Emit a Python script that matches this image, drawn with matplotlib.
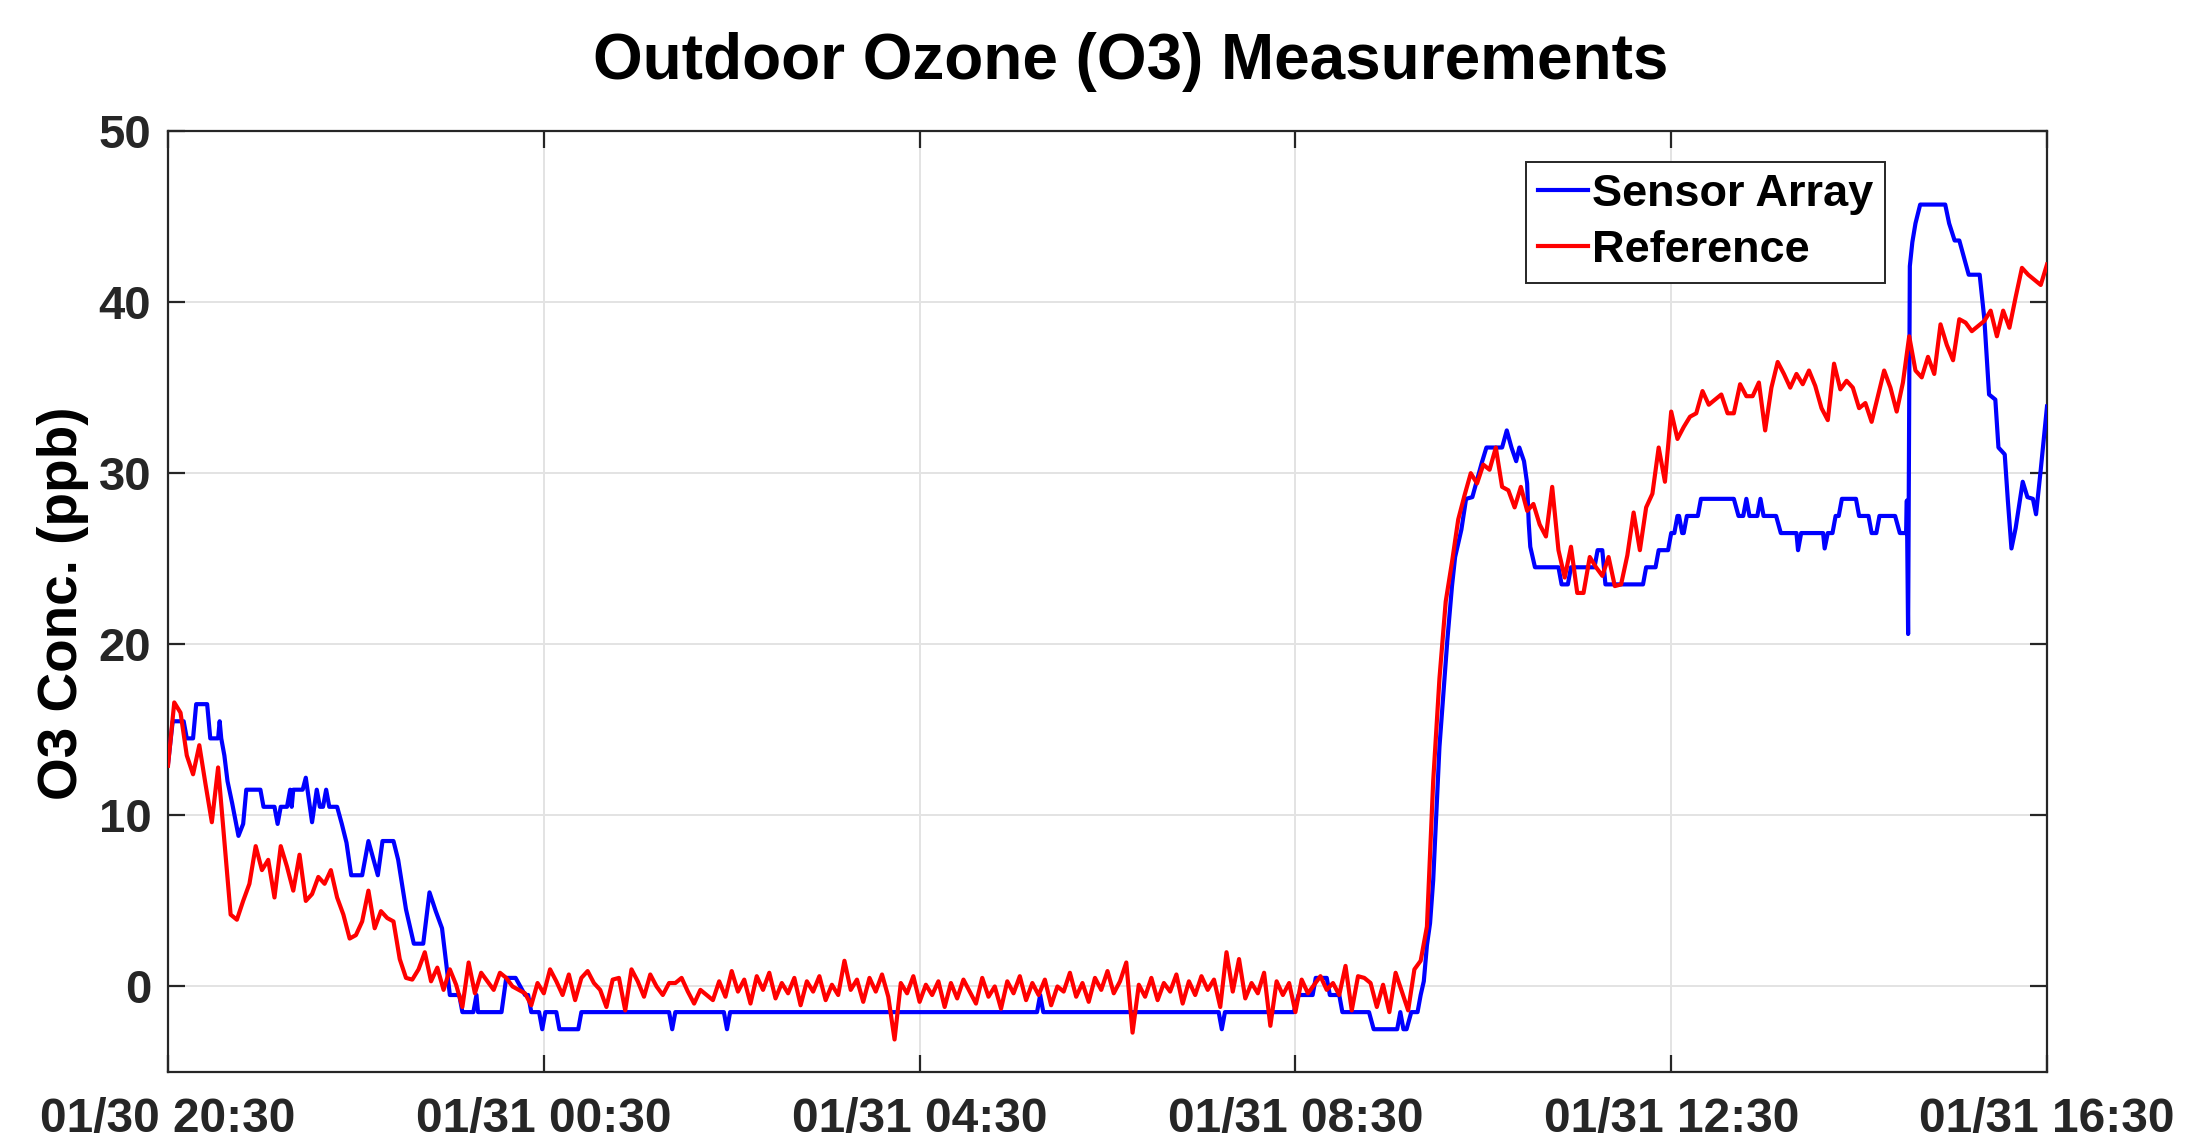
import matplotlib
matplotlib.use('Agg')
import matplotlib.pyplot as plt
import numpy as np
import pandas as pd

plt.rcParams['font.family'] = ['Liberation Sans', 'DejaVu Sans']
plt.rcParams['font.weight'] = 'bold'

# ---------------- data ----------------
start_time = '2020-01-30 20:30'
x_tick_labels = ['01/30 20:30', '01/31 00:30', '01/31 04:30',
                 '01/31 08:30', '01/31 12:30', '01/31 16:30']
x_tick_hours = [0, 4, 8, 12, 16, 20]
y_ticks = [0, 10, 20, 30, 40, 50]

# Sensor Array: (minutes after start, ppb) breakpoints
sensor_min = [0, 3, 10, 12, 16, 18, 25, 27, 32, 33, 34, 36, 38, 41, 45, 48, 50, 59, 61, 68,
              70, 72, 76, 78, 79, 80, 86, 88, 92, 95, 97, 99, 101, 103, 108, 111, 114, 117, 124, 128,
              131, 134, 137, 144, 147, 152, 157, 163, 167, 171, 175, 178, 180, 186, 188, 195, 197, 198, 200, 213,
              216, 222, 225, 228, 230, 232, 237, 239, 241, 248, 250, 262, 264, 320, 322, 324, 355, 357, 359, 555,
              557, 559, 671, 673, 675, 719, 722, 731, 733, 740, 742, 748, 750, 767, 770, 785, 787, 789, 791, 794,
              798, 800, 802, 804, 806, 808, 812, 817, 820, 822, 826, 829, 833, 836, 839, 842, 852, 855, 858, 861,
              863, 866, 868, 869, 870, 873, 888, 890, 894, 896, 911, 913, 916, 918, 942, 944, 950, 952, 958, 960,
              962, 964, 965, 967, 968, 970, 977, 979, 1000, 1003, 1006, 1008, 1010, 1015, 1017, 1019, 1027, 1030, 1040, 1041,
              1043, 1057, 1058, 1060, 1063, 1065, 1067, 1069, 1078, 1080, 1086, 1088, 1091, 1093, 1103, 1106, 1110, 1110.5, 1111.3, 1112.4,
              1114, 1116, 1119, 1135, 1137.5, 1141, 1144, 1147, 1150, 1157, 1160, 1163, 1167, 1169, 1173, 1175, 1177.3, 1180, 1184.5, 1187.5,
              1191, 1193, 1196, 1200]
sensor_ppb = [13.0, 15.5, 15.5, 14.5, 14.5, 16.5, 16.5, 14.5, 14.5, 15.5, 14.5, 13.5, 12.0, 10.7, 8.8, 9.5, 11.5, 11.5, 10.5, 10.5,
              9.5, 10.5, 10.5, 11.5, 10.5, 11.5, 11.5, 12.2, 9.6, 11.5, 10.5, 10.5, 11.5, 10.5, 10.5, 9.5, 8.4, 6.5, 6.5, 8.5,
              7.5, 6.5, 8.5, 8.5, 7.4, 4.5, 2.5, 2.5, 5.5, 4.4, 3.4, 1.1, -0.5, -0.5, -1.5, -1.5, -0.5, -1.5, -1.5, -1.5,
              0.5, 0.5, 0.0, -0.5, -0.5, -1.5, -1.5, -2.5, -1.5, -1.5, -2.5, -2.5, -1.5, -1.5, -2.5, -1.5, -1.5, -2.5, -1.5, -1.5,
              -0.5, -1.5, -1.5, -2.5, -1.5, -1.5, -0.5, -0.5, 0.5, 0.5, -0.5, -0.5, -1.5, -1.5, -2.5, -2.5, -1.5, -2.5, -2.5, -1.5,
              -1.5, -0.5, 0.3, 2.4, 3.7, 6.2, 14.0, 20.2, 23.4, 25.1, 26.7, 28.5, 28.6, 29.6, 30.6, 31.5, 31.5, 32.5, 31.5, 30.7,
              31.5, 30.7, 29.4, 27.1, 25.7, 24.5, 24.5, 23.5, 23.5, 24.5, 24.5, 25.5, 25.5, 23.5, 23.5, 24.5, 24.5, 25.5, 25.5, 26.5,
              26.5, 27.5, 27.5, 26.5, 26.5, 27.5, 27.5, 28.5, 28.5, 27.5, 27.5, 28.5, 27.5, 27.5, 28.5, 27.5, 27.5, 26.5, 26.5, 25.5,
              26.5, 26.5, 25.6, 26.5, 26.5, 27.5, 27.5, 28.5, 28.5, 27.5, 27.5, 26.5, 26.5, 27.5, 27.5, 26.5, 26.5, 28.4, 20.6, 42.1,
              43.5, 44.6, 45.7, 45.7, 44.6, 43.6, 43.6, 42.6, 41.6, 41.6, 39.0, 34.6, 34.3, 31.5, 31.1, 28.4, 25.6, 26.8, 29.5, 28.6,
              28.5, 27.6, 30.2, 33.9]

# Reference: one reading every 4 minutes from the start
reference_step_min = 4
reference_ppb = [
    12.9, 16.6, 16.0, 13.5, 12.4, 14.1, 11.8, 9.6, 12.8, 8.5,
    4.2, 3.9, 5.0, 6.0, 8.2, 6.8, 7.4, 5.2, 8.2, 7.0,
    5.6, 7.7, 5.0, 5.4, 6.4, 6.0, 6.8, 5.2, 4.2, 2.8,
    3.0, 3.8, 5.6, 3.4, 4.4, 4.0, 3.8, 1.6, 0.5, 0.4,
    1.0, 2.0, 0.3, 1.1, -0.2, 1.0, 0.1, -1.2, 1.4, -0.4,
    0.8, 0.3, -0.2, 0.8, 0.5, 0.0, -0.2, -0.4, -1.1, 0.2,
    -0.4, 1.0, 0.3, -0.5, 0.7, -0.8, 0.5, 0.9, 0.2, -0.2,
    -1.2, 0.4, 0.5, -1.4, 1.0, 0.3, -0.6, 0.7, 0.0, -0.5,
    0.2, 0.2, 0.5, -0.3, -1.0, -0.2, -0.5, -0.8, 0.3, -0.6,
    0.9, -0.3, 0.4, -1.0, 0.6, -0.2, 0.8, -0.7, 0.2, -0.4,
    0.5, -1.1, 0.3, -0.3, 0.6, -0.8, 0.1, -0.5, 1.5, -0.2,
    0.4, -0.9, 0.5, -0.3, 0.7, -0.6, -3.1, 0.2, -0.4, 0.6,
    -0.9, 0.1, -0.5, 0.3, -1.2, 0.2, -0.7, 0.4, -0.3, -1.0,
    0.5, -0.6, 0.0, -1.3, 0.3, -0.4, 0.6, -0.8, 0.2, -0.5,
    0.4, -1.1, 0.0, -0.3, 0.8, -0.6, 0.2, -0.9, 0.5, -0.2,
    0.9, -0.4, 0.3, 1.4, -2.7, 0.1, -0.6, 0.5, -0.8, 0.2,
    -0.3, 0.7, -1.0, 0.3, -0.5, 0.6, -0.2, 0.4, -1.2, 2.0,
    -0.3, 1.6, -0.7, 0.2, -0.4, 0.8, -2.3, 0.3, -0.5, 0.2,
    -1.5, 0.4, -0.4, 0.1, 0.6, -0.2, 0.2, -0.5, 1.2, -1.4,
    0.6, 0.5, 0.2, -1.2, 0.1, -1.5, 0.8, -0.3, -1.4, 1.0,
    1.5, 3.5, 12.0, 18.0, 22.5, 24.8, 27.3, 28.7, 30.0, 29.4,
    30.5, 30.2, 31.5, 29.2, 29.0, 28.0, 29.2, 27.8, 28.2, 27.0,
    26.3, 29.2, 25.5, 23.9, 25.7, 23.0, 23.0, 25.1, 24.5, 24.0,
    25.1, 23.4, 23.5, 25.2, 27.7, 25.5, 28.0, 28.8, 31.5, 29.5,
    33.6, 32.0, 32.7, 33.3, 33.5, 34.8, 34.0, 34.3, 34.6, 33.5,
    33.5, 35.2, 34.5, 34.5, 35.3, 32.5, 35.0, 36.5, 35.8, 35.0,
    35.8, 35.2, 36.0, 35.1, 33.8, 33.1, 36.4, 34.9, 35.4, 35.0,
    33.8, 34.1, 33.0, 34.5, 36.0, 35.0, 33.6, 35.3, 38.0, 36.0,
    35.6, 36.8, 35.8, 38.7, 37.5, 36.6, 39.0, 38.8, 38.3, 38.6,
    38.9, 39.5, 38.0, 39.5, 38.5, 40.3, 42.0, 41.6, 41.3, 41.0,
    42.2,
]

# ---------------- figure ----------------
W, H = 2191, 1141
fig = plt.figure(figsize=(W / 100, H / 100), dpi=100)
L, R, T, B = 168, 2047, 131, 1072
ax = fig.add_axes([L / W, 1 - B / H, (R - L) / W, (B - T) / H])

t0 = pd.Timestamp(start_time)
sensor_t = t0 + pd.to_timedelta(np.array(sensor_min, dtype=float), unit='m')
ref_t = t0 + pd.to_timedelta(np.arange(len(reference_ppb)) * reference_step_min, unit='m')

lw = 3.0
ax.plot(sensor_t, sensor_ppb, color='#0000ff', lw=lw, label='Sensor Array', zorder=3)
ax.plot(ref_t, reference_ppb, color='#ff0000', lw=lw, label='Reference', zorder=4)

ax.set_xlim(t0, t0 + pd.Timedelta(hours=20))
ax.set_ylim(-5, 50)
ax.set_xticks([t0 + pd.Timedelta(hours=h) for h in x_tick_hours])
ax.set_xticklabels(x_tick_labels)
ax.set_yticks(y_ticks)
ax.set_yticklabels([str(v) for v in y_ticks])

ax.grid(True, color='#e3e3e3', lw=1.4, zorder=0)
ax.set_axisbelow(True)
for s in ax.spines.values():
    s.set_color('#262626')
    s.set_linewidth(1.6)
ax.tick_params(axis='both', which='major', direction='in', length=12, width=1.6,
               colors='#262626', labelsize=34, top=True, right=True)
ax.tick_params(axis='x', pad=18, labelsize=34.5, labelcolor='#262626')
ax.tick_params(axis='y', pad=12, labelcolor='#262626')
for lab in ax.get_xticklabels() + ax.get_yticklabels():
    lab.set_fontweight('bold')

fig.text(1131 / W, 1 - 62 / H, 'Outdoor Ozone (O3) Measurements', ha='center', va='center',
         fontsize=46, fontweight='bold', color='black')
fig.text(63 / W, 1 - 603 / H, 'O3 Conc. (ppb)', ha='center', va='center', rotation=90,
         fontsize=39.5, fontweight='bold', color='black')

leg = ax.legend(loc='upper right', bbox_to_anchor=((1885 - L) / (R - L), 1 - (162 - T) / (B - T)),
                fontsize=32.5, frameon=True, fancybox=False, framealpha=1, edgecolor='#262626',
                handlelength=1.1, handletextpad=0.1, borderpad=0.26, labelspacing=0.34,
                borderaxespad=0)
leg.get_frame().set_linewidth(1.4)
for txt in leg.get_texts():
    txt.set_fontweight('bold')

fig.savefig('out.png', dpi=100, facecolor='white')
